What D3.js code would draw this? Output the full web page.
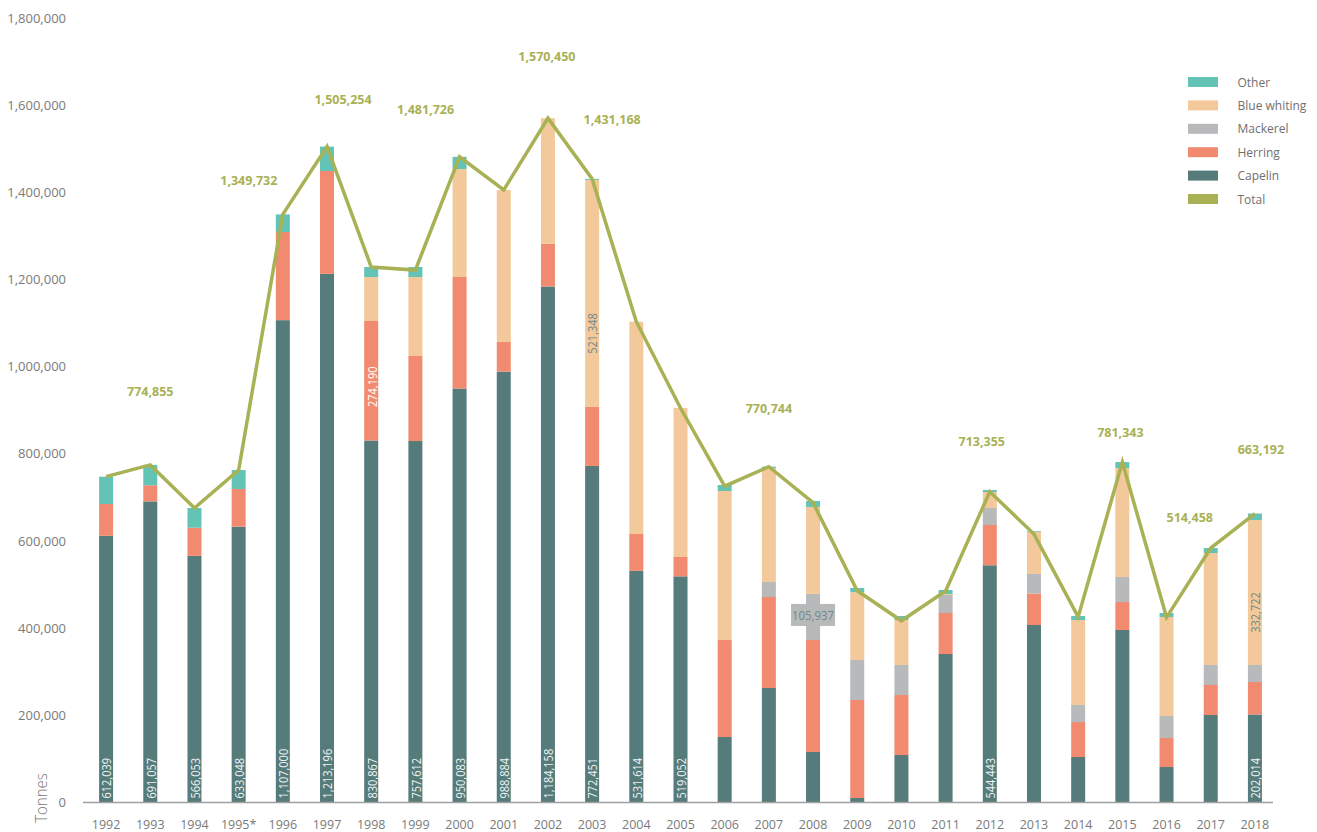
<!DOCTYPE html>
<html>
<head>
<meta charset="utf-8">
<script src="https://cdn.jsdelivr.net/npm/d3@7"></script>
<style>
  html, body { margin: 0; padding: 0; background: #fff; }
  svg { display: block; font-family: "Open Sans", "Noto Sans", sans-serif; }
</style>
</head>
<body>
<svg id="chart" width="1317" height="832"></svg>
<script>
// ---------------- DATA ----------------
const years = ["1992","1993","1994","1995*","1996","1997","1998","1999","2000","2001","2002","2003","2004","2005","2006","2007","2008","2009","2010","2011","2012","2013","2014","2015","2016","2017","2018"];

const capelin     = [612039, 691057, 566053, 633048, 1107000, 1213196, 830867, 829600, 950083, 988884, 1184158, 772451, 531614, 519052, 150300, 262800, 115900, 10300, 109000, 340800, 544443, 407400, 104400, 395900, 81500, 200800, 202014];
const herring     = [73000, 37000, 64600, 86400, 202300, 236100, 274190, 195100, 256000, 67900, 98300, 135200, 84600, 44400, 222600, 208800, 257000, 224900, 137700, 94100, 92400, 72300, 80300, 64200, 66500, 68900, 74500];
const mackerel    = [0, 0, 0, 0, 0, 0, 0, 0, 0, 0, 0, 0, 0, 0, 0, 34400, 105937, 91800, 68900, 41300, 39000, 44700, 39100, 57400, 50500, 45900, 39100];
const blueWhiting = [0, 0, 0, 0, 0, 0, 101000, 181300, 247900, 348900, 288000, 521348, 487300, 342000, 342000, 261700, 199400, 155600, 103200, 2300, 36700, 97100, 195000, 250200, 227200, 257000, 332722];
const other       = [62700, 46800, 45200, 43500, 40400, 56000, 23000, 23000, 27800, 0, 0, 2200, 0, 0, 13800, 3000, 13800, 9700, 9200, 9200, 4600, 1600, 9200, 13600, 9200, 11400, 14900];
const total       = [748000, 774855, 675900, 763000, 1349732, 1505254, 1229000, 1222000, 1481726, 1406000, 1570450, 1431168, 1103500, 905400, 726000, 770744, 688000, 486000, 417000, 485400, 713355, 616000, 426000, 781343, 425000, 584000, 663192];

const yTicks = [0, 200000, 400000, 600000, 800000, 1000000, 1200000, 1400000, 1600000, 1800000];

// value labels written in the bars (capelin, at the base)
const capelinLabelYears = ["1992","1993","1994","1995*","1996","1997","1998","1999","2000","2001","2002","2003","2004","2005","2012","2018"];
const capelinLabelTexts = ["612,039","691,057","566,053","633,048","1,107,000","1,213,196","830,867","757,612","950,083","988,884","1,184,158","772,451","531,614","519,052","544,443","202,014"];

// value labels inside other segments
const segLabelYears  = ["1998", "2003", "2008", "2018"];
const segLabelSeries = ["Herring", "Blue whiting", "Mackerel", "Blue whiting"];
const segLabelTexts  = ["274,190", "521,348", "105,937", "332,722"];

// total labels
const totalLabelYears = ["1993","1996","1997","2000","2002","2003","2007","2012","2015","2017","2018"];
const totalLabelTexts = ["774,855","1,349,732","1,505,254","1,481,726","1,570,450","1,431,168","770,744","713,355","781,343","514,458","663,192"];

// ---------------- LAYOUT / STYLE ----------------
const seriesNames  = ["Capelin", "Herring", "Mackerel", "Blue whiting", "Other"];
const seriesArrays = [capelin, herring, mackerel, blueWhiting, other];
const colors = {
  "Capelin": "#557b7a",
  "Herring": "#f28a70",
  "Mackerel": "#b8b9bb",
  "Blue whiting": "#f3c99b",
  "Other": "#63c4b5",
  "Total": "#a9b155"
};
const legendOrder = ["Other", "Blue whiting", "Mackerel", "Herring", "Capelin", "Total"];

const segLabelShift = [6, 40, -2, 20];               // vertical shift of inner labels (px)
const segLabelFill  = ["#ffffff", "#6e8a89", "#6e8a89", "#6e8a89"];
const totalLabelDx  = [0, -34, 16, -34, -1, 20, 0, -8, -2, -21, 6];
const totalLabelDy  = [-73, -34, -47, -47, -62, -59, -58, -50, -30, -31, -64];

const svg = d3.select("#chart");
const y0 = 802.5, yTop = 18.2;
const barW = 14;

const x = d3.scalePoint().domain(years).range([84, 1277]).padding(0.5);
const y = d3.scaleLinear().domain([0, 1800000]).range([y0, yTop]);

// table for stacking
const table = years.map((yr, i) => {
  const row = { year: yr };
  seriesNames.forEach((s, k) => row[s] = seriesArrays[k][i]);
  return row;
});
const stacked = d3.stack().keys(seriesNames)(table);

// y tick labels
const fmt = d3.format(",");
svg.append("g").selectAll("text").data(yTicks).join("text")
  .attr("x", 66).attr("y", d => y(d))
  .attr("dy", "0.35em")
  .attr("text-anchor", "end")
  .attr("font-size", 13)
  .attr("fill", "#7a7a7a")
  .text(d => fmt(d));

// y axis title
svg.append("text")
  .attr("transform", `translate(47,798) rotate(-90) scale(0.88,1)`)
  .attr("text-anchor", "middle")
  .attr("font-size", 17)
  .attr("font-weight", 300)
  .attr("fill", "#777")
  .text("Tonnes");

// bars
const gBars = svg.append("g");
stacked.forEach(layer => {
  gBars.append("g").attr("fill", colors[layer.key])
    .selectAll("rect").data(layer).join("rect")
    .attr("x", d => x(d.data.year) - barW / 2)
    .attr("width", barW)
    .attr("y", d => y(d[1]))
    .attr("height", d => Math.max(0, y(d[0]) - y(d[1])));
});

// x axis line
svg.append("line")
  .attr("x1", 83).attr("x2", 1273)
  .attr("y1", y0).attr("y2", y0)
  .attr("stroke", "#a0a0a0").attr("stroke-width", 1.5);

// x tick labels
svg.append("g").selectAll("text").data(years).join("text")
  .attr("x", d => x(d)).attr("y", 824)
  .attr("text-anchor", "middle")
  .attr("dominant-baseline", "central")
  .attr("font-size", 12.5)
  .attr("fill", "#7a7a7a")
  .text(d => d);

// capelin labels (rotated, at bar base)
svg.append("g").selectAll("text").data(capelinLabelYears).join("text")
  .attr("transform", d => `translate(${x(d)},${y0 - 4}) rotate(-90) scale(0.88,1)`)
  .attr("dominant-baseline", "central")
  .attr("text-anchor", "start")
  .attr("font-size", 12.5)
  .attr("fill", "#eef3f3")
  .text((d, i) => capelinLabelTexts[i]);

// segment labels
segLabelYears.forEach((yr, i) => {
  const layer = stacked[seriesNames.indexOf(segLabelSeries[i])];
  const seg = layer[years.indexOf(yr)];
  const cx = x(yr);
  const cy = (y(seg[0]) + y(seg[1])) / 2 + segLabelShift[i];
  if (segLabelSeries[i] === "Mackerel") {
    svg.append("rect")
      .attr("x", cx - 22).attr("y", cy - 11)
      .attr("width", 44).attr("height", 22)
      .attr("fill", colors["Mackerel"]);
    svg.append("text")
      .attr("transform", `translate(${cx},${cy}) scale(0.88,1)`)
      .attr("text-anchor", "middle")
      .attr("dominant-baseline", "central")
      .attr("font-size", 13)
      .attr("fill", segLabelFill[i])
      .text(segLabelTexts[i]);
  } else {
    svg.append("text")
      .attr("transform", `translate(${cx},${cy}) rotate(-90) scale(0.88,1)`)
      .attr("text-anchor", "middle")
      .attr("dominant-baseline", "central")
      .attr("font-size", 12.5)
      .attr("fill", segLabelFill[i])
      .text(segLabelTexts[i]);
  }
});

// total line
const line = d3.line().x((d, i) => x(years[i])).y(d => y(d));
svg.append("path")
  .datum(total)
  .attr("d", line)
  .attr("fill", "none")
  .attr("stroke", colors["Total"])
  .attr("stroke-width", 3.5)
  .attr("stroke-linejoin", "miter");

// total labels
svg.append("g").selectAll("text").data(totalLabelYears).join("text")
  .attr("x", (d, i) => x(d) + totalLabelDx[i])
  .attr("y", (d, i) => y(total[years.indexOf(d)]) + totalLabelDy[i])
  .attr("text-anchor", "middle")
  .attr("dominant-baseline", "central")
  .attr("font-size", 12.5)
  .attr("font-weight", 700)
  .attr("fill", colors["Total"])
  .text((d, i) => totalLabelTexts[i]);

// legend
const legendY = d3.scalePoint().domain(legendOrder).range([82, 199]);
const gLeg = svg.append("g");
gLeg.selectAll("rect").data(legendOrder).join("rect")
  .attr("x", 1188).attr("y", d => legendY(d) - 5)
  .attr("width", 30).attr("height", 10)
  .attr("fill", d => colors[d]);
gLeg.selectAll("text").data(legendOrder).join("text")
  .attr("x", 1237.5).attr("y", d => legendY(d))
  .attr("dominant-baseline", "central")
  .attr("font-size", 12)
  .attr("fill", "#6f6f6f")
  .text(d => d);
</script>
</body>
</html>
